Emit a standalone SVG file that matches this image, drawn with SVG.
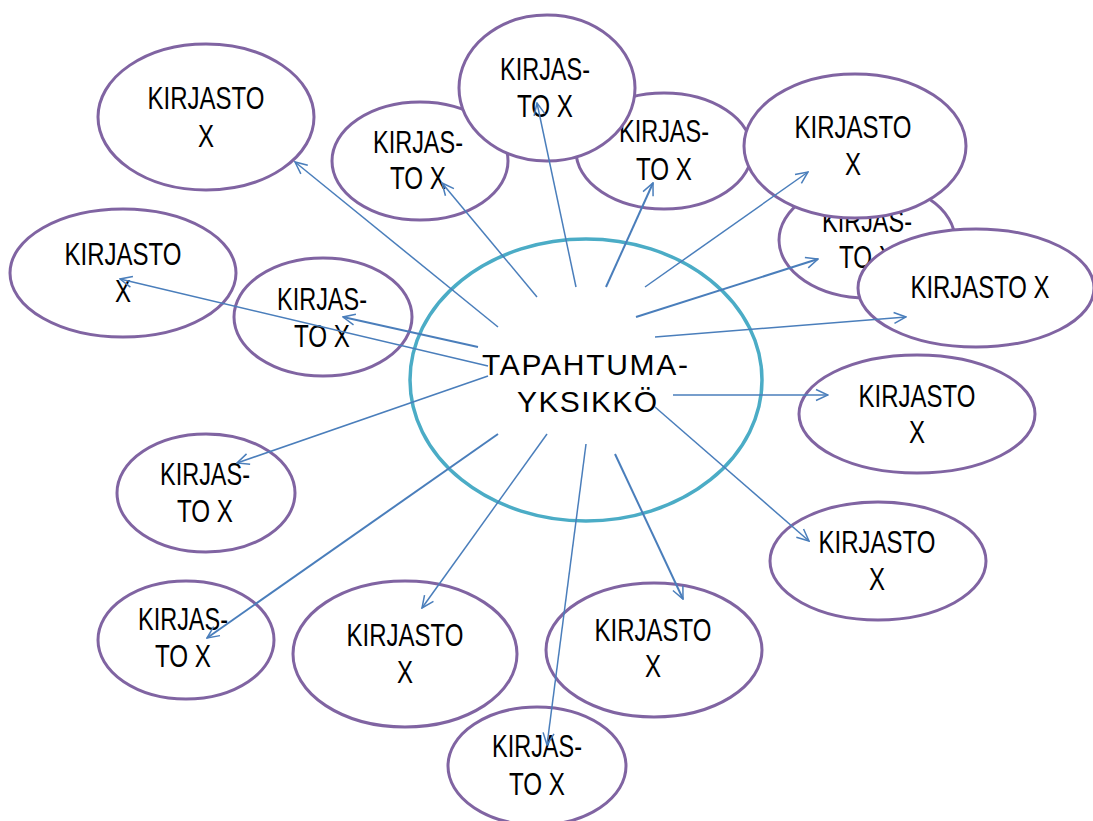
<svg xmlns="http://www.w3.org/2000/svg" width="1093" height="821" viewBox="0 0 1093 821">
<style>
.n{fill:#ffffff;stroke:#8064a2;stroke-width:3}
.c{fill:#ffffff;stroke:#4bacc6;stroke-width:3.5}
.t{font-family:"Liberation Sans",Arial,sans-serif;font-size:31px;fill:#000000;text-anchor:middle}
.ct{font-family:"Liberation Sans",Arial,sans-serif;font-size:30px;fill:#000000;text-anchor:middle}
.l{stroke:#4a7ebb;stroke-width:1.5;fill:none;marker-end:url(#ah)}
.w{stroke-width:2}
</style>
<defs>
<marker id="ah" markerUnits="userSpaceOnUse" viewBox="-13 -7 14 14" markerWidth="14" markerHeight="14" refX="0" refY="0" orient="auto">
<path d="M-12,-5.5 L0,0 L-12,5.5" fill="none" stroke="#4a7ebb" stroke-width="1.5"/>
</marker>
</defs>
<rect width="1093" height="821" fill="#ffffff"/>
<g id="center">
<ellipse class="c" cx="586" cy="380" rx="176" ry="141"/>
<text class="ct" x="585" y="375" textLength="206">TAPAHTUMA-</text>
<text class="ct" x="587" y="412" textLength="140">YKSIKKÖ</text>
</g>
<g id="n1">
<ellipse class="n" cx="206" cy="117" rx="108" ry="73"/>
<text class="t" x="206" y="109" textLength="117" lengthAdjust="spacingAndGlyphs">KIRJASTO</text>
<text class="t" x="206" y="147" textLength="16" lengthAdjust="spacingAndGlyphs">X</text>
</g>
<g id="n2">
<ellipse class="n" cx="420" cy="161" rx="88" ry="59"/>
<text class="t" x="418" y="153" textLength="90" lengthAdjust="spacingAndGlyphs">KIRJAS-</text>
<text class="t" x="418" y="189" textLength="56" lengthAdjust="spacingAndGlyphs">TO X</text>
</g>
<g id="n4">
<ellipse class="n" cx="664" cy="151" rx="88" ry="58"/>
<text class="t" x="664" y="142" textLength="90" lengthAdjust="spacingAndGlyphs">KIRJAS-</text>
<text class="t" x="664" y="180" textLength="56" lengthAdjust="spacingAndGlyphs">TO X</text>
</g>
<g id="n3">
<ellipse class="n" cx="547" cy="88" rx="88" ry="73"/>
<text class="t" x="545" y="80" textLength="90" lengthAdjust="spacingAndGlyphs">KIRJAS-</text>
<text class="t" x="545" y="117" textLength="56" lengthAdjust="spacingAndGlyphs">TO X</text>
</g>
<g id="n6">
<ellipse class="n" cx="867" cy="240" rx="88" ry="58"/>
<text class="t" x="867" y="232" textLength="90" lengthAdjust="spacingAndGlyphs">KIRJAS-</text>
<text class="t" x="867" y="268" textLength="56" lengthAdjust="spacingAndGlyphs">TO X</text>
</g>
<g id="n5">
<ellipse class="n" cx="855" cy="146" rx="111" ry="72"/>
<text class="t" x="853" y="138" textLength="117" lengthAdjust="spacingAndGlyphs">KIRJASTO</text>
<text class="t" x="853" y="175" textLength="16" lengthAdjust="spacingAndGlyphs">X</text>
</g>
<g id="n7">
<ellipse class="n" cx="976" cy="288" rx="118" ry="59"/>
<text class="t" x="980" y="298" textLength="139" lengthAdjust="spacingAndGlyphs">KIRJASTO X</text>
</g>
<g id="n8">
<ellipse class="n" cx="917" cy="414" rx="118" ry="59"/>
<text class="t" x="917" y="407" textLength="117" lengthAdjust="spacingAndGlyphs">KIRJASTO</text>
<text class="t" x="917" y="443" textLength="16" lengthAdjust="spacingAndGlyphs">X</text>
</g>
<g id="n9">
<ellipse class="n" cx="878" cy="561" rx="108" ry="59"/>
<text class="t" x="877" y="553" textLength="117" lengthAdjust="spacingAndGlyphs">KIRJASTO</text>
<text class="t" x="877" y="590" textLength="16" lengthAdjust="spacingAndGlyphs">X</text>
</g>
<g id="n10">
<ellipse class="n" cx="654" cy="650" rx="108" ry="67"/>
<text class="t" x="653" y="641" textLength="117" lengthAdjust="spacingAndGlyphs">KIRJASTO</text>
<text class="t" x="653" y="677" textLength="16" lengthAdjust="spacingAndGlyphs">X</text>
</g>
<g id="n12">
<ellipse class="n" cx="405" cy="654" rx="112" ry="73"/>
<text class="t" x="405" y="646" textLength="117" lengthAdjust="spacingAndGlyphs">KIRJASTO</text>
<text class="t" x="405" y="683" textLength="16" lengthAdjust="spacingAndGlyphs">X</text>
</g>
<g id="n11">
<ellipse class="n" cx="537" cy="766" rx="89" ry="59"/>
<text class="t" x="537" y="757" textLength="90" lengthAdjust="spacingAndGlyphs">KIRJAS-</text>
<text class="t" x="537" y="795" textLength="56" lengthAdjust="spacingAndGlyphs">TO X</text>
</g>
<g id="n13">
<ellipse class="n" cx="186" cy="640" rx="88" ry="59"/>
<text class="t" x="183" y="630" textLength="90" lengthAdjust="spacingAndGlyphs">KIRJAS-</text>
<text class="t" x="183" y="667" textLength="56" lengthAdjust="spacingAndGlyphs">TO X</text>
</g>
<g id="n14">
<ellipse class="n" cx="206" cy="493" rx="89" ry="59"/>
<text class="t" x="205" y="485" textLength="90" lengthAdjust="spacingAndGlyphs">KIRJAS-</text>
<text class="t" x="205" y="522" textLength="56" lengthAdjust="spacingAndGlyphs">TO X</text>
</g>
<g id="n15">
<ellipse class="n" cx="323" cy="317" rx="89" ry="59"/>
<text class="t" x="322" y="310" textLength="90" lengthAdjust="spacingAndGlyphs">KIRJAS-</text>
<text class="t" x="322" y="347" textLength="56" lengthAdjust="spacingAndGlyphs">TO X</text>
</g>
<g id="n16">
<ellipse class="n" cx="123" cy="273" rx="113" ry="64"/>
<text class="t" x="123" y="265" textLength="117" lengthAdjust="spacingAndGlyphs">KIRJASTO</text>
<text class="t" x="123" y="302" textLength="16" lengthAdjust="spacingAndGlyphs">X</text>
</g>
<g id="connectors">
<line class="l" x1="498" y1="327" x2="295" y2="162"/>
<line class="l" x1="537" y1="297" x2="442" y2="183"/>
<line class="l" x1="576" y1="287" x2="537" y2="103"/>
<line class="l w" x1="606" y1="287" x2="653" y2="183"/>
<line class="l" x1="645" y1="287" x2="808" y2="172"/>
<line class="l w" x1="636" y1="317" x2="818" y2="259"/>
<line class="l" x1="655" y1="337" x2="906" y2="317"/>
<line class="l" x1="673" y1="395" x2="828" y2="395"/>
<line class="l" x1="655" y1="407" x2="809" y2="541"/>
<line class="l w" x1="615" y1="454" x2="683" y2="599"/>
<line class="l" x1="586" y1="444" x2="547" y2="745"/>
<line class="l" x1="547" y1="434" x2="422" y2="608"/>
<line class="l w" x1="498" y1="434" x2="207" y2="638"/>
<line class="l" x1="488" y1="376" x2="237" y2="463"/>
<line class="l w" x1="478" y1="347" x2="343" y2="317"/>
<line class="l" x1="488" y1="366" x2="120" y2="279"/>
</g>
</svg>
